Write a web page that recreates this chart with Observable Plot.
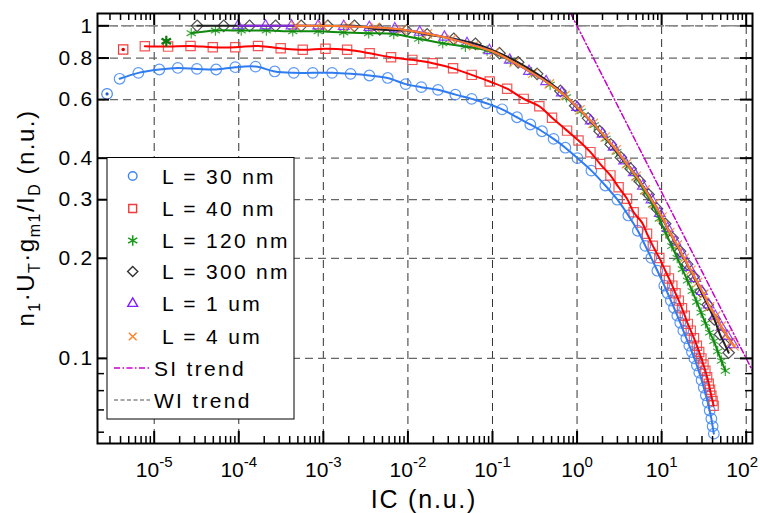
<!DOCTYPE html>
<html><head><meta charset="utf-8">
<script src="https://cdn.jsdelivr.net/npm/d3@7"></script>
<script src="https://cdn.jsdelivr.net/npm/@observablehq/plot@0.6"></script>
<style>html,body{margin:0;padding:0;background:#fff} svg{display:block}</style>
</head><body><div id="chart"></div>
<script>
// ---- data ----
const ic30 = [3.9e-6, 6.5e-6, 1.15e-5, 1.9e-5, 3.2e-5, 5.4e-5, 9.1e-5, 1.58e-4, 2.66e-4, 4.47e-4, 7.5e-4, 1.27e-3, 2.1e-3, 3.5e-3, 5.77e-3, 9.4e-3, 0.0144, 0.0227, 0.0364, 0.0567, 0.0847, 0.13, 0.195, 0.28, 0.385, 0.528, 0.727, 1.01, 1.476, 2.16, 3.0, 4.04, 5.23, 6.42, 7.55, 8.9, 10.76, 11.8, 12.85, 14.0, 15.33, 16.6, 18.05, 19.6, 21.26, 22.8, 24.35, 26.1, 27.9, 29.7, 31.5, 33.3, 35.2, 37.0, 38.7, 40.1, 41.4];
const gm30 = [0.693, 0.722, 0.739, 0.747, 0.742, 0.739, 0.751, 0.754, 0.729, 0.722, 0.722, 0.722, 0.717, 0.709, 0.697, 0.668, 0.654, 0.642, 0.621, 0.603, 0.585, 0.561, 0.531, 0.505, 0.482, 0.457, 0.43, 0.40, 0.367, 0.331, 0.30, 0.269, 0.242, 0.218, 0.2005, 0.1835, 0.1655, 0.157, 0.1492, 0.142, 0.1344, 0.128, 0.1212, 0.115, 0.1092, 0.1045, 0.100, 0.0953, 0.0906, 0.0860, 0.0817, 0.0775, 0.0736, 0.0697, 0.0659, 0.0625, 0.0594];
const ic40 = [7.75e-6, 1.46e-5, 2.69e-5, 4.93e-5, 9.1e-5, 1.69e-4, 3.13e-4, 5.71e-4, 1.06e-3, 1.91e-3, 3.53e-3, 6.32e-3, 1.13e-2, 1.96e-2, 3.42e-2, 5.68e-2, 9.27e-2, 0.149, 0.234, 0.358, 0.506, 0.762, 1.04, 1.44, 1.88, 2.48, 3.1, 3.9, 4.67, 5.87, 6.72, 7.87, 9.39, 11.06, 12.2, 13.38, 14.6, 15.97, 17.4, 18.8, 20.4, 22.1, 24.1, 26.1, 27.8, 29.5, 31.2, 32.9, 34.5, 36.1, 37.4, 38.7, 40.0, 41.2];
const gm40 = [0.868, 0.866, 0.870, 0.862, 0.862, 0.870, 0.856, 0.847, 0.853, 0.847, 0.827, 0.804, 0.790, 0.772, 0.745, 0.712, 0.680, 0.647, 0.603, 0.573, 0.529, 0.484, 0.452, 0.417, 0.384, 0.355, 0.327, 0.302, 0.275, 0.256, 0.237, 0.218, 0.2005, 0.1835, 0.174, 0.1655, 0.157, 0.1492, 0.1415, 0.1344, 0.127, 0.1212, 0.115, 0.1092, 0.1045, 0.100, 0.0958, 0.0918, 0.0878, 0.0839, 0.0805, 0.0772, 0.0745, 0.0721];
const ic120 = [2.74e-5, 5.3e-5, 1.07e-4, 2.12e-4, 4.35e-4, 8.7e-4, 1.74e-3, 3.44e-3, 6.8e-3, 1.34e-2, 2.58e-2, 4.78e-2, 8.63e-2, 0.163, 0.29, 0.48, 0.75, 1.12, 1.6, 2.2, 2.95, 3.9, 5.0, 6.3, 7.8, 9.4, 11.2, 13.2, 15.3, 17.6, 20.2, 23, 26, 29.3, 33, 37, 41.5, 46, 51, 56.6];
const gm120 = [0.950, 0.968, 0.968, 0.968, 0.963, 0.963, 0.955, 0.950, 0.945, 0.914, 0.886, 0.866, 0.843, 0.786, 0.725, 0.665, 0.61, 0.553, 0.503, 0.458, 0.418, 0.382, 0.350, 0.318, 0.29, 0.263, 0.238, 0.2175, 0.2005, 0.1854, 0.1714, 0.1594, 0.1478, 0.1373, 0.1276, 0.1196, 0.1127, 0.105, 0.0983, 0.0918];
const ic300 = [3.22e-5, 6.64e-5, 1.34e-4, 2.72e-4, 5.47e-4, 1.13e-3, 2.33e-3, 4.64e-3, 9.6e-3, 1.69e-2, 3.48e-2, 6.28e-2, 0.121, 0.201, 0.337, 0.635, 0.95, 1.35, 1.85, 2.5, 3.3, 4.3, 5.5, 7.0, 8.8, 11, 13.5, 16.5, 20, 24, 29, 35, 42, 49, 56, 62];
const gm300 = [1.0, 1.0, 1.0, 1.0, 1.0, 1.0, 1.0, 0.975, 0.968, 0.942, 0.914, 0.883, 0.827, 0.777, 0.717, 0.637, 0.575, 0.527, 0.482, 0.440, 0.402, 0.372, 0.341, 0.311, 0.282, 0.254, 0.230, 0.210, 0.192, 0.176, 0.159, 0.145, 0.131, 0.118, 0.110, 0.104];
const ic1u = [9.8e-5, 2.07e-4, 4.2e-4, 8.7e-4, 1.74e-3, 3.5e-3, 7.0e-3, 1.38e-2, 2.7e-2, 5.0e-2, 9.2e-2, 0.16, 0.27, 0.43, 0.66, 1.0, 1.45, 2.0, 2.7, 3.6, 4.7, 6.0, 7.6, 9.5, 11.8, 14.5, 17.5, 21, 25, 30, 36, 43, 51, 60, 70];
const gm1u = [1.0, 1.0, 1.0, 1.0, 0.997, 0.99, 0.98, 0.957, 0.925, 0.885, 0.843, 0.789, 0.73, 0.68, 0.629, 0.569, 0.518, 0.473, 0.432, 0.393, 0.362, 0.330, 0.300, 0.273, 0.246, 0.224, 0.205, 0.188, 0.174, 0.159, 0.145, 0.134, 0.124, 0.1165, 0.110];
const ic4u = [4.68e-4, 9.7e-4, 2.0e-3, 4.1e-3, 8.5e-3, 1.7e-2, 3.3e-2, 6.0e-2, 0.105, 0.18, 0.3, 0.47, 0.72, 1.08, 1.55, 2.15, 2.9, 3.85, 5.0, 6.4, 8.1, 10.1, 12.5, 15.3, 18.5, 22.2, 26.5, 31.5, 37, 43.5, 50.5, 58, 66, 72];
const gm4u = [1.0, 1.0, 0.996, 0.989, 0.975, 0.946, 0.912, 0.872, 0.833, 0.776, 0.72, 0.669, 0.617, 0.559, 0.509, 0.463, 0.424, 0.385, 0.353, 0.321, 0.292, 0.266, 0.239, 0.219, 0.200, 0.184, 0.169, 0.156, 0.143, 0.134, 0.125, 0.118, 0.112, 0.109];
// first (marked) points of the three shortest devices
const icFirst = [2.77e-6, 4.3e-6, 1.39e-5];
const gmFirst = [0.624, 0.849, 0.899];
// trends
const icSI = [0.84, 120];
const gmSI = [1.09, 0.0913];
const gmWI = [1];
// axes
const xMajor = [1e-5, 1e-4, 1e-3, 1e-2, 1e-1, 1, 10, 100];
const yMajor = [0.1, 0.2, 0.3, 0.4, 0.6, 0.8, 1];
const yMinor = [0.06, 0.07, 0.08, 0.09];
const names = ["L = 30 nm", "L = 40 nm", "L = 120 nm", "L = 300 nm", "L = 1 um", "L = 4 um"];

// ---- build ----
const xMinor = [];
for (let e = -6; e <= 1; e++) for (let m = 2; m <= 9; m++) xMinor.push(m * Math.pow(10, e));
const xDomain = [2.136e-6, 118.7], yDomain = [0.05548, 1.089];
const xMinorIn = xMinor.filter(v => v > xDomain[0] && v < xDomain[1]);

const series = [
  {ic: ic30, gm: gm30, mk: "#3f86f5", ln: "#2f7cf2", symbol: "circle", r: 5.3},
  {ic: ic40, gm: gm40, mk: "#f03a3a", ln: "#ff0000", symbol: "square2", r: 5.9},
  {ic: ic120, gm: gm120, mk: "#1b9a1b", ln: "#0f8a0f", symbol: "asterisk", r: 5},
  {ic: ic300, gm: gm300, mk: "#333333", ln: "#222222", symbol: "diamond2", r: 5.2},
  {ic: ic1u, gm: gm1u, mk: "#7f1fff", ln: "#8a2be2", symbol: "triangle2", r: 5.1},
  {ic: ic4u, gm: gm4u, mk: "#ff7f27", ln: "#ff7f27", symbol: "times", r: 4.3}
];
series.forEach((s, k) => { s.name = names[k]; s.rows = s.ic.map((v, i) => ({x: v, y: s.gm[i]})); });
const first = icFirst.map((v, i) => ({x: v, y: gmFirst[i]}));
const si = icSI.map((v, i) => ({x: v, y: gmSI[i]}));

const FW = 655, FH = 430;
const marks = [
  Plot.gridX(xMajor, {x: d => d, stroke: "#333", strokeOpacity: 1, strokeWidth: 1, strokeDasharray: "8,5"}),
  Plot.gridY(yMajor, {y: d => d, stroke: "#666", strokeOpacity: 1, strokeWidth: 1.3, strokeDasharray: "8,5"}),
  Plot.ruleY(gmWI, {y: d => d, stroke: "#8a8a8a", strokeWidth: 1.6, strokeDasharray: "5,3"}),
  Plot.line(si, {x: "x", y: "y", stroke: "#c800c8", strokeWidth: 1.5, strokeDasharray: "6,2.5,1.5,2.5", clip: true})
];
series.forEach(s => {
  marks.push(Plot.dot(s.rows, {x: "x", y: "y", symbol: () => s.symbol, r: s.r, stroke: s.mk, fill: "none", strokeWidth: 1.2, strokeOpacity: 0.85}));
});
series.forEach(s => {
  marks.push(Plot.line(s.rows, {x: "x", y: "y", stroke: s.ln, strokeWidth: 2, curve: "catmull-rom"}));
});
// marked first points
marks.push(Plot.dot([first[0]], {x: "x", y: "y", symbol: "circle", r: 5.3, stroke: series[0].mk, fill: "none", strokeWidth: 1.2}));
marks.push(Plot.dot([first[0]], {x: "x", y: "y", r: 1.6, fill: "#1f5fd0"}));
marks.push(Plot.dot([first[1]], {x: "x", y: "y", symbol: "square2", r: 5.9, stroke: series[1].mk, fill: "none", strokeWidth: 1.2}));
marks.push(Plot.dot([first[1]], {x: "x", y: "y", r: 1.8, fill: "#e00000"}));
marks.push(Plot.dot([first[2]], {x: "x", y: "y", symbol: "asterisk", r: 5.2, stroke: "#0c7a0c", strokeWidth: 2.2}));
// inward ticks
marks.push(
  Plot.tickX(xMajor, {x: d => d, insetTop: FH - 12, stroke: "#000", strokeWidth: 2}),
  Plot.tickX(xMajor, {x: d => d, insetBottom: FH - 12, stroke: "#000", strokeWidth: 2}),
  Plot.tickX(xMinorIn, {x: d => d, insetTop: FH - 7, stroke: "#000", strokeWidth: 1.5}),
  Plot.tickX(xMinorIn, {x: d => d, insetBottom: FH - 7, stroke: "#000", strokeWidth: 1.5}),
  Plot.tickY(yMajor, {y: d => d, insetRight: FW - 12, stroke: "#000", strokeWidth: 2}),
  Plot.tickY(yMajor, {y: d => d, insetLeft: FW - 12, stroke: "#000", strokeWidth: 2}),
  Plot.tickY(yMinor, {y: d => d, insetRight: FW - 7, stroke: "#000", strokeWidth: 1.5}),
  Plot.tickY(yMinor, {y: d => d, insetLeft: FW - 7, stroke: "#000", strokeWidth: 1.5}),
  Plot.frame({stroke: "#000", strokeWidth: 2}),
  Plot.axisX(xMajor, {anchor: "bottom", tickSize: 0, tickPadding: 19, label: null,
    tickFormat: d => "10^" + Math.round(Math.log10(d))}),
  Plot.axisY(yMajor, {anchor: "left", tickSize: 0, tickPadding: 3, label: null,
    tickFormat: d => String(d)})
);

const chart = Plot.plot({
  width: 760, height: 513,
  marginLeft: 97, marginRight: 8, marginTop: 13, marginBottom: 70,
  x: {type: "log", domain: xDomain},
  y: {type: "log", domain: yDomain},
  style: {fontFamily: "'Liberation Sans', Arial, sans-serif", fontSize: "21px", color: "#000", background: "#fff"},
  marks
});
document.getElementById("chart").appendChild(chart);

// ---- text post-processing ----
const svg = d3.select(chart);
svg.selectAll('g[aria-label="x-axis tick label"] text').each(function () {
  const t = d3.select(this);
  const parts = t.text().split("^");
  t.text(parts[0]);
  t.append("tspan").attr("dy", -10).attr("font-size", 15).text(parts[1]);
  if (parts[1] === "2") t.attr("dx", -4);
});
svg.selectAll('g[aria-label="y-axis tick label"]').attr("letter-spacing", 2.3);

// axis titles
svg.append("text").attr("x", 424).attr("y", 508).attr("text-anchor", "middle")
  .attr("font-size", 25).attr("letter-spacing", 1.8).attr("fill", "#000").text("IC (n.u.)");
const yt = svg.append("text").attr("transform", "translate(34,218) rotate(-90)")
  .attr("text-anchor", "middle").attr("font-size", 24).attr("letter-spacing", 1.5).attr("fill", "#000");
const parts = [["n", 0], ["1", 1], ["·U", 0], ["T", 1], ["·g", 0], ["m1", 1], ["/I", 0], ["D", 1], [" (n.u.)", 0]];
let prev = 0;
parts.forEach(([s, sub]) => {
  const ts = yt.append("tspan").text(s);
  if (sub) ts.attr("font-size", 16);
  const dy = sub ? 6 : 0;
  if (dy - prev !== 0) ts.attr("dy", dy - prev);
  prev = dy;
});

// legend
const lg = svg.append("g").attr("font-size", 21).attr("letter-spacing", 2.3).attr("text-anchor", "start");
lg.append("rect").attr("x", 107).attr("y", 157.5).attr("width", 187).attr("height", 261.5)
  .attr("fill", "#fff").attr("stroke", "#000").attr("stroke-width", 1);
const symMap = {circle: d3.symbolCircle, square2: d3.symbolSquare2, asterisk: d3.symbolAsterisk,
  diamond2: d3.symbolDiamond2, triangle2: d3.symbolTriangle2, times: d3.symbolTimes};
const legR = [4.3, 5, 5, 4.6, 4.7, 3.6];
const legY = [176, 208.5, 240.5, 271.5, 303.5, 336.5];
series.forEach((s, i) => {
  lg.append("path").attr("transform", `translate(132.7,${legY[i]})`)
    .attr("d", d3.symbol(symMap[s.symbol], Math.PI * legR[i] * legR[i])())
    .attr("fill", "none").attr("stroke", s.mk).attr("stroke-width", s.symbol === "asterisk" ? 1.6 : 1.4);
  lg.append("text").attr("x", 162).attr("y", legY[i] + 7.5).attr("fill", "#000").attr("text-anchor", "start").text(s.name);
});
lg.append("line").attr("x1", 114).attr("x2", 150).attr("y1", 368).attr("y2", 368)
  .attr("stroke", "#c800c8").attr("stroke-width", 1.5).attr("stroke-dasharray", "6,2.5,1.5,2.5");
lg.append("text").attr("x", 154).attr("y", 375.5).attr("fill", "#000").attr("text-anchor", "start").text("SI trend");
lg.append("line").attr("x1", 114).attr("x2", 150).attr("y1", 400).attr("y2", 400)
  .attr("stroke", "#8a8a8a").attr("stroke-width", 1.5).attr("stroke-dasharray", "4,2.5");
lg.append("text").attr("x", 154).attr("y", 407.5).attr("fill", "#000").attr("text-anchor", "start").text("WI trend");
</script>
</body></html>
